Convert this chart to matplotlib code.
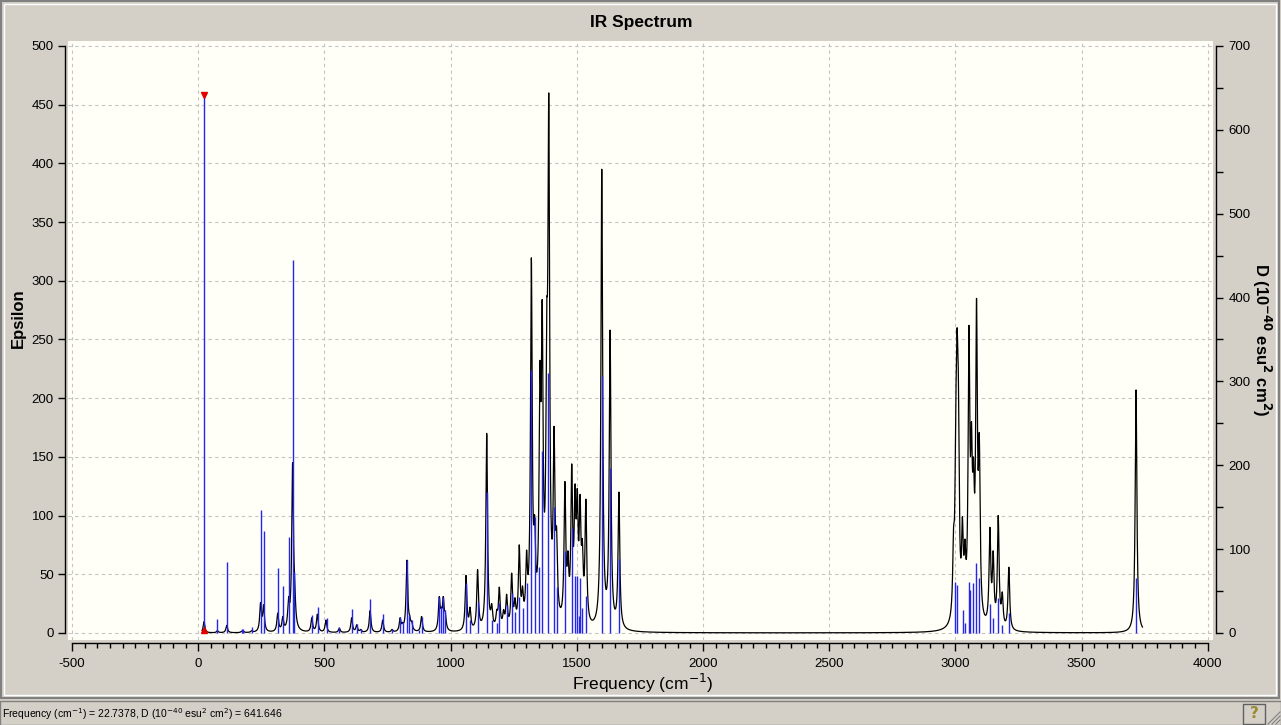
import numpy as np
import matplotlib
matplotlib.use("Agg")
import matplotlib.pyplot as plt
from matplotlib.patches import Rectangle
from matplotlib.lines import Line2D
from matplotlib.ticker import MultipleLocator, FixedLocator

# ---------------- data ----------------
# computed vibrational modes (sticks, right axis D in 1e-40 esu^2 cm^2)
stick_freq = [22.7378, 76, 113, 172, 177, 212, 247, 259, 315, 335, 358, 374, 381,
              450, 473, 509, 559, 608, 628, 644, 681, 731, 768, 800, 810, 827, 836,
              846, 876, 885, 955, 962, 971, 979,
              1061, 1077, 1109, 1143, 1163, 1183, 1193, 1222, 1242, 1255, 1272, 1285,
              1301, 1318, 1334, 1349, 1363, 1386, 1410, 1420, 1453, 1480, 1493, 1500,
              1507, 1513, 1520, 1535, 1599, 1632, 1667,
              3000, 3006, 3030, 3038, 3053, 3060, 3070, 3083, 3094, 3137, 3150, 3170,
              3186, 3214, 3716]
stick_D = [641.646, 17, 85, 5, 5, 7.5, 147, 121, 77, 56, 115, 445, 73,
           21, 31, 18, 7, 28.6, 10.7, 5, 40.5, 22.6, 5, 19, 13, 87, 21,
           15.5, 4, 18.7, 43, 31, 43, 27,
           60, 15, 37, 168, 15, 12, 36, 33, 48, 25, 43, 30,
           60, 313, 138, 79, 217, 310, 150, 55, 98, 125, 68, 68,
           20, 65, 30, 44, 306, 197, 88,
           61, 57, 27, 12, 61, 51, 59, 83, 65, 35, 18, 42,
           9.5, 24, 65.6]

# broadened spectrum: band centres and peak epsilon
band_freq = [23, 76, 113, 172, 178, 212, 247, 259, 315, 335, 358, 374, 382,
             450, 472, 506, 559, 608, 628, 644, 681, 731, 768, 800, 810, 827, 838,
             846, 876, 885, 955, 963, 971, 979,
             1061, 1077, 1107, 1143, 1163, 1183, 1193, 1210, 1222, 1242, 1255, 1272,
             1285, 1301, 1310, 1320, 1333, 1354, 1363, 1381, 1389, 1410, 1420, 1453,
             1465, 1480, 1493, 1502, 1513, 1522, 1536, 1599, 1632, 1667,
             2993, 3002, 3007, 3012, 3028, 3038, 3054, 3064, 3072, 3084, 3095, 3137,
             3150, 3170, 3186, 3212, 3716]
band_eps = [9.6, 2, 6.5, 1.5, 1.5, 2, 26, 24, 17, 14, 31, 145, 48,
            13, 16, 11, 4, 13, 7, 3, 19, 11, 3, 13, 9, 62, 15,
            10, 3, 14, 31, 22, 31, 18,
            49, 22, 54, 170, 25, 20, 39, 20, 33, 51, 30, 75,
            40, 70, 55, 319, 100, 231, 284, 280, 460, 176, 90, 129,
            70, 144, 127, 123, 118, 80, 114, 395, 258, 120,
            90, 200, 260, 220, 99, 80, 262, 180, 150, 285, 170, 90,
            70, 100, 35, 56, 207]

cursor_freq = 22.7378
cursor_D = 641.646

x_ticks = [-500, 0, 500, 1000, 1500, 2000, 2500, 3000, 3500, 4000]
y_left_ticks = [0, 50, 100, 150, 200, 250, 300, 350, 400, 450, 500]
y_right_ticks = [0, 100, 200, 300, 400, 500, 600, 700]

# ---------------- figure ----------------
W, H = 1281, 725
fig = plt.figure(figsize=(W / 100, H / 100), dpi=100)
fig.patch.set_facecolor("#D4D0C8")
FONT = ["Liberation Sans Narrow", "Liberation Sans", "DejaVu Sans"]
plt.rcParams["font.family"] = FONT

def px(x, y):
    return x / W, 1 - y / H

# window frame
def frect(x0, y0, x1, y1, ec, fc="none", lw=1.0, z=0):
    fig.patches.append(Rectangle((x0 / W, 1 - y1 / H), (x1 - x0) / W, (y1 - y0) / H,
                                 transform=fig.transFigure, fill=(fc != "none"),
                                 facecolor=fc, edgecolor=ec, lw=lw, zorder=z))

frect(1, 1, 1279, 698, "#808080", lw=1.5)
frect(4, 4, 1276, 695, "#FFFFFF", lw=1.0)
frect(0, 701, 1281, 725, "#808080", fc="#D4D0C8", lw=1.0)

# plot area
L, R, T, B = 68, 1213, 40.7, 640
ax = fig.add_axes([L / W, 1 - B / H, (R - L) / W, (B - T) / H])
ax.set_facecolor("#FFFFF7")
ax.set_xlim(-516, 4021)
ax.set_ylim(-6, 504.5)
ax2 = ax.twinx()
ax2.set_ylim(-6 * 1.4, 504.5 * 1.4)

# grid
ax.xaxis.set_major_locator(FixedLocator(x_ticks))
ax.xaxis.set_minor_locator(MultipleLocator(50))
ax.yaxis.set_major_locator(FixedLocator(y_left_ticks))
ax.grid(True, which="major", color="#C4C4C4", ls=(0, (3, 3)), lw=0.8)
ax.set_axisbelow(True)

# spectrum curve
gam = 4.0
bf = np.array(band_freq, float)
be = np.array(band_eps, float)
A = 1.0 / (1.0 + ((bf[:, None] - bf[None, :]) / gam) ** 2)
amp = np.clip(np.linalg.solve(A, be), 0, None)
xs = np.arange(15, 3742, 0.5)
ys = (amp[None, :] / (1.0 + ((xs[:, None] - bf[None, :]) / gam) ** 2)).sum(axis=1)
ax.plot(xs, ys, color="black", lw=0.9, zorder=3)

# sticks
ax2.vlines(stick_freq, 0, stick_D, color="#2525F0", lw=1.0, zorder=2)
ax2.plot([cursor_freq], [cursor_D], marker="v", color="#E00000", ms=5, zorder=5)
ax2.plot([cursor_freq], [3], marker="^", color="#E00000", ms=5, zorder=5)

# spines
off = 3 * 0.72
for a in (ax, ax2):
    a.spines["top"].set_visible(False)
ax.spines["right"].set_visible(False)
ax2.spines["left"].set_visible(False)
ax2.spines["bottom"].set_visible(False)
ax.spines["left"].set_position(("outward", off))
ax.spines["bottom"].set_position(("outward", off))
ax2.spines["right"].set_position(("outward", off))
ax.spines["left"].set_bounds(0, 500)
ax.spines["bottom"].set_bounds(-500, 4000)
ax2.spines["right"].set_bounds(0, 700)
for s in ("left", "bottom"):
    ax.spines[s].set_linewidth(1.0)
ax2.spines["right"].set_linewidth(1.0)

ax2.yaxis.set_major_locator(FixedLocator(y_right_ticks))
ax2.yaxis.set_minor_locator(MultipleLocator(50))

tick_kw = dict(labelsize=9.5, colors="black", width=1.0)
ax.tick_params(axis="x", which="major", length=5.5, pad=5, direction="out", **tick_kw)
ax.tick_params(axis="x", which="minor", length=3.5, width=1.0, direction="out")
ax.tick_params(axis="y", which="major", length=5, pad=3, direction="out", **tick_kw)
ax2.tick_params(axis="y", which="major", length=5, pad=4, direction="out", **tick_kw)
ax2.tick_params(axis="y", which="minor", length=5, width=1.0, direction="out")
ax.set_xticklabels([str(v) for v in x_ticks])

# labels
fig.text(*px(641, 22), "IR Spectrum", ha="center", va="center", fontsize=12.5,
         fontweight="bold", family=["Liberation Sans", "DejaVu Sans"])
fig.text(*px(643, 683), "Frequency (cm$^{-1}$)", ha="center", va="center", fontsize=12.5,
         family=["Liberation Sans", "DejaVu Sans"])
fig.text(*px(18, 318), "Epsilon", ha="center", va="center", rotation=90, fontsize=12,
         fontweight="bold", family=["Liberation Sans", "DejaVu Sans"])
fig.text(*px(1262, 340), "D (10$^{\\mathbf{-40}}$ esu$^{\\mathbf{2}}$ cm$^{\\mathbf{2}}$)",
         ha="center", va="center", rotation=-90, fontsize=12, fontweight="bold",
         family=["Liberation Sans", "DejaVu Sans"])

# status bar
fig.text(*px(2, 714), "Frequency (cm$^{-1}$) = 22.7378, D (10$^{-40}$ esu$^{2}$ cm$^{2}$) = 641.646",
         ha="left", va="center", fontsize=7.5, family=["Liberation Sans", "DejaVu Sans"])
frect(1243, 704, 1265, 724, "#606060", fc="#D4D0C8", lw=1.0, z=2)
fig.text(*px(1254, 714), "?", ha="center", va="center", fontsize=11, fontweight="bold",
         color="#9A8A30", family=["DejaVu Sans"])
for d in (4, 8, 12):
    fig.lines.append(Line2D([(1280 - d) / W, 1280 / W], [1 - 724 / H, 1 - (724 - d) / H],
                            transform=fig.transFigure, color="#808080", lw=0.8))

fig.savefig("out.png", dpi=100, facecolor=fig.get_facecolor())
